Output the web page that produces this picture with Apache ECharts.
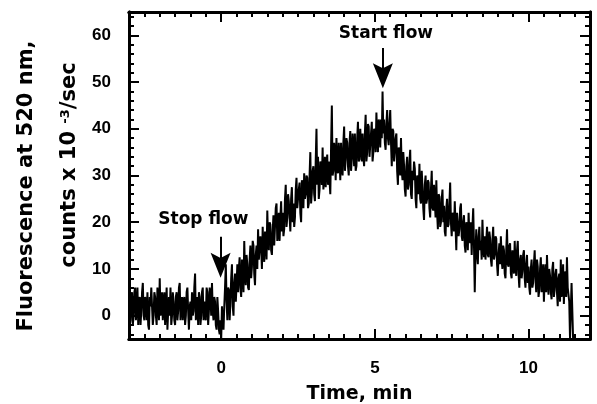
<!DOCTYPE html>
<html>
<head>
<meta charset="utf-8">
<script src="https://cdn.jsdelivr.net/npm/echarts@6/dist/echarts.min.js"></script>
<style>
  html, body { margin: 0; padding: 0; background: #fff; }
  #chart { width: 597px; height: 404px; }
</style>
</head>
<body>
<div id="chart"></div>
<script>
// sampling step of each array, min (odd arrays are offset by half a step)
const step = 0.05;

// before stopping the flow (t = -3.00 .. -0.05)
const baselineStart = -3.0;
const baseline = [
  3, -1, 5, 0, 6, 2, -2, 4, 1, 7, -1, 3, 5, -3, 2, 6, 0, 4, -2, 3,
  8, 1, -1, 5, 2, -3, 4, 6, 0, 3, -2, 5, 1, 7, 2, -1, 4, 0, 6, -3,
  3, 5, 1, 9, 2, -2, 4, 0, 6, 3, -1, 5, 1, 4, 7, -1, 3, -3, 1, -4,
];
const baselineOdd = [
  -2, 4, -2, 5, -1, 6, 3, -2, 5, 0, 4, -1, -2, 4, 6, -2, 5, 0, 6, -1,
  0, 5, 3, -2, 6, 1, 0, -2, 5, -1, 4, -1, 6, -1, 4, 3, -2, 5, 1, 2,
  -1, 0, 6, -1, 4, 5, -2, 5, -1, 0, 6, -2, 6, 0, 1, 4, -2, 4, -3, -1,
];

// flow stopped (t = 0.00 .. 5.25)
const riseStart = 0.0;
const rise = [
  -5, -2, 2, 11, -1, 5.5, 3, 11, 0, 9,
  6.5, 5, 12.5, 4, 10.5, 16, 6.5, 11, 5.5, 15,
  10.5, 15, 6.5, 15, 18.5, 12, 14.5, 19, 11.5, 17,
  22.5, 14, 19.5, 13, 21.5, 19, 24, 17.5, 16, 24.5,
  22, 18.5, 28, 21, 24.5, 18, 27.5, 24, 21, 29.5,
  23, 28.5, 20, 27, 30.5, 26, 29.5, 24, 35, 26.5,
  32, 24.5, 40, 34, 27, 32.5, 36, 30, 27.5, 34.5,
  33, 26, 45, 31, 35, 38, 30.5, 34, 37, 30,
  40.5, 33.5, 37, 30, 39.5, 33.5, 36.5, 39, 32, 41.5,
  33.5, 36.5, 39, 32, 43, 35, 40.5, 36.5, 41.5, 35,
  39, 43.5, 35, 41, 42, 48,
];
const riseOdd = [
  2, -3, 6, 3, 6, -1, 8, 2, 7, 3,
  11, 10, 6, 12, 5, 9, 13, 6, 12, 8,
  16, 9, 13, 10, 12, 17, 10, 14, 18, 12,
  16, 20, 14, 18, 15, 23, 16, 22, 21, 18,
  17, 25, 19, 26, 21, 25, 20, 19, 27, 23,
  27, 22, 29, 23, 25, 30, 23, 30, 24, 31,
  26, 33, 28, 25, 33, 28, 27, 34, 32, 28,
  29, 36, 30, 37, 29, 31, 37, 29, 32, 37,
  31, 38, 32, 37, 31, 39, 32, 31, 38, 33,
  40, 33, 34, 39, 33, 41, 34, 39, 33, 40,
  35, 38, 42, 36, 38, 39,
];

// flow restarted (t = 5.30 .. 11.30)
const decayStart = 5.3;
const decay = [
  42, 35.5, 44, 36.5, 44, 32, 39.5, 35, 39, 28,
  35.5, 38, 29, 32, 25.5, 34, 28, 35.5, 25, 29,
  31.5, 23, 29.5, 32.5, 24, 27.5, 20.5, 30, 25, 28.5,
  21, 31, 22.5, 24.5, 29, 18.5, 25.5, 20, 27, 23.5,
  17, 25, 19.5, 28.5, 17, 21.5, 24.5, 14, 22, 18.5,
  24, 16, 21.5, 13.5, 19, 22, 15.5, 13, 23, 5,
  18.5, 11, 19, 16, 20.5, 12.5, 12, 19, 12.5, 16.5,
  10.5, 19, 13, 16.5, 8.5, 15.5, 17, 10, 14, 8,
  18.5, 10.5, 15.5, 8, 12, 16, 8.5, 16, 6, 13,
  9.5, 14, 6, 13, 10.5, 4.5, 12, 7, 14, 5,
  10.5, 5.5, 12.5, 7, 3, 11, 13, 4.5, 8.5, 3.5,
  11.5, 5.5, 10, 2, 9, 12, 6, 2.5, 9.5, 12.5,
  4.5,
];
const decayOdd = [
  37, 41, 38, 41, 37, 40, 33, 38, 31, 36,
  30, 31, 35, 27, 32, 27, 33, 26, 31, 33,
  25, 30, 26, 25, 31, 23, 28, 24, 29, 23,
  27, 23, 28, 21, 22, 26, 19, 25, 20, 18,
  23, 19, 24, 20, 22, 18, 19, 22, 17, 23,
  17, 20, 15, 20, 14, 17, 20, 19, 15, 14,
  13, 17, 14, 12, 15, 17, 16, 13, 18, 12,
  16, 12, 17, 11, 13, 11, 12, 15, 9, 14,
  11, 15, 9, 14, 9, 11, 14, 9, 12, 8,
  13, 8, 11, 7, 6, 10, 6, 11, 8, 12,
  4, 10, 5, 11, 8, 5, 8, 10, 5, 10,
  4, 9, 5, 8, 3, 4, 11, 8, 4, 6,
  3,
];

// end of the record
const tailStart = 11.35;
const tail = [-5, 7, -5];

// axis ticks
const xMajor = [0, 5, 10];
const yMajor = [0, 10, 20, 30, 40, 50, 60];

function minorTicks(min, max, d, majors) {
  const out = [];
  for (let v = min; v <= max + 1e-9; v += d) {
    const r = Math.round(v * 100) / 100;
    if (!majors.includes(r)) out.push(r);
  }
  return out;
}
const xMinor = minorTicks(-3, 12, 0.5, xMajor);
const yMinor = minorTicks(-4, 64, 2, yMajor);

function segment(t0, values) {
  return values.map((v, i) => [Math.round((t0 + i * step) * 1000) / 1000, v]);
}
const half = step / 2;
const trace = [].concat(
  segment(baselineStart, baseline),
  segment(baselineStart + half, baselineOdd),
  segment(riseStart, rise),
  segment(riseStart + half, riseOdd),
  segment(decayStart, decay),
  segment(decayStart + half, decayOdd),
  segment(tailStart, tail)
).sort((a, b) => a[0] - b[0]);

const tickFont = "Liberation Sans";
const titleFont = "DejaVu Sans";
// arrow head pointing down, notched at the back
const arrowHead = "path://M0,0 L10,5 L20,0 L10,24 Z";

function xAx(pos, ticks, len, labels) {
  return {
    type: "value", min: -3, max: 12, position: pos,
    axisLine: { show: true, onZero: false, lineStyle: { color: "#000", width: 3 } },
    axisTick: { show: true, inside: true, length: len, customValues: ticks,
      lineStyle: { color: "#000", width: 2 } },
    axisLabel: labels
      ? { show: true, customValues: xMajor, margin: 21, color: "#000",
          fontFamily: tickFont, fontWeight: "bold", fontSize: 17 }
      : { show: false },
    splitLine: { show: false },
  };
}
function yAx(pos, ticks, len, labels) {
  return {
    type: "value", min: -5, max: 65, position: pos,
    axisLine: { show: true, onZero: false, lineStyle: { color: "#000", width: 3 } },
    axisTick: { show: true, inside: true, length: len, customValues: ticks,
      lineStyle: { color: "#000", width: 2 } },
    axisLabel: labels
      ? { show: true, customValues: yMajor, margin: 18, color: "#000",
          fontFamily: tickFont, fontWeight: "bold", fontSize: 17 }
      : { show: false },
    splitLine: { show: false },
  };
}

const chart = echarts.init(document.getElementById("chart"));

const xBottom = xAx("bottom", xMajor, 10, true);
xBottom.name = "Time, min";
xBottom.nameLocation = "middle";
xBottom.nameGap = 46;
xBottom.nameTextStyle = { color: "#000", fontFamily: titleFont, fontWeight: "bold", fontSize: 19 };

const option = {
  animation: false,
  backgroundColor: "#fff",
  grid: { left: 129, right: 7, top: 12, bottom: 65, containLabel: false, outerBoundsMode: "none" },
  xAxis: [xBottom, xAx("bottom", xMinor, 5, false), xAx("top", xMajor, 10, false), xAx("top", xMinor, 5, false)],
  yAxis: [yAx("left", yMajor, 10, true), yAx("left", yMinor, 5, false), yAx("right", yMajor, 10, false), yAx("right", yMinor, 5, false)],
  graphic: [
    {
      type: "text", x: 27, y: 186, rotation: Math.PI / 2,
      style: { text: "Fluorescence at 520 nm,", fill: "#000", align: "center", verticalAlign: "middle",
        fontFamily: titleFont, fontWeight: "bold", fontSize: 21 },
    },
    {
      type: "text", x: 70, y: 165, rotation: Math.PI / 2,
      style: {
        text: "counts x 10 {sup|-3}/sec", fill: "#000", align: "center", verticalAlign: "middle",
        fontFamily: titleFont, fontWeight: "bold", fontSize: 21,
        rich: {
          sup: { fontFamily: titleFont, fontWeight: "bold", fontSize: 13, fill: "#000",
            verticalAlign: "top", padding: [0, 0, 6, 0] },
        },
      },
    },
  ],
  series: [
    {
      type: "line",
      data: trace,
      xAxisIndex: 0, yAxisIndex: 0,
      showSymbol: false,
      lineStyle: { color: "#000", width: 2 },
      itemStyle: { color: "#000" },
      markLine: {
        silent: true,
        symbol: ["none", "none"],
        lineStyle: { color: "#000", width: 2, type: "solid" },
        label: { show: false },
        data: [
          [{ coord: [5.26, 57.3] }, { coord: [5.26, 52] }],
          [{ coord: [-0.02, 16.9] }, { coord: [-0.02, 12] }],
        ],
      },
      markPoint: {
        silent: true,
        label: { show: true, position: "inside", formatter: "{b}", color: "#000",
          fontFamily: titleFont, fontWeight: "bold", fontSize: 17 },
        data: [
          { name: "Start flow", coord: [5.36, 60.4], symbol: "circle", symbolSize: 0 },
          { name: "Stop flow", coord: [-0.58, 20.5], symbol: "circle", symbolSize: 0 },
          { name: "", coord: [5.26, 48.7], symbol: arrowHead, symbolSize: [20, 25],
            symbolOffset: [0, "-50%"], itemStyle: { color: "#000" }, label: { show: false } },
          { name: "", coord: [-0.02, 8.1], symbol: arrowHead, symbolSize: [20, 25],
            symbolOffset: [0, "-50%"], itemStyle: { color: "#000" }, label: { show: false } },
        ],
      },
    },
  ],
};

chart.setOption(option);
</script>
</body>
</html>
